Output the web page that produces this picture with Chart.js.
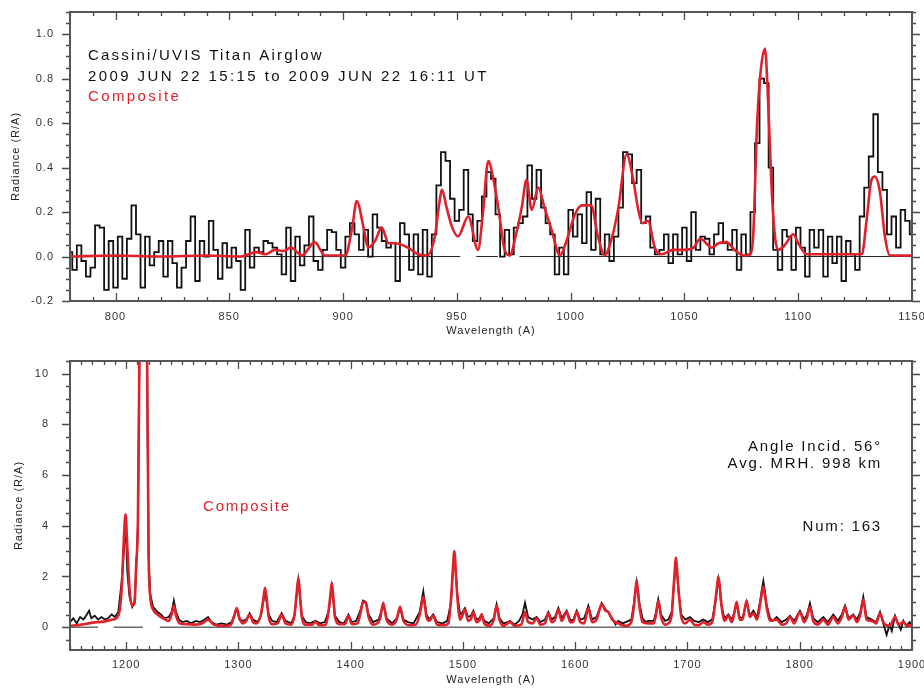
<!DOCTYPE html>
<html><head><meta charset="utf-8">
<script src="https://cdn.jsdelivr.net/npm/chart.js@4.4.1/dist/chart.umd.min.js"></script>
<style>
html,body{margin:0;padding:0;background:#fff;}
#wrap{position:relative;width:924px;height:690px;overflow:hidden;background:#fff;}
#c1{position:absolute;left:0;top:0;width:924px;height:345px;}
#c2{position:absolute;left:0;top:345px;width:924px;height:345px;}
</style></head><body>
<div id="wrap"><canvas id="c1" width="924" height="345"></canvas><canvas id="c2" width="924" height="345"></canvas></div>
<script>
// ---------- DATA ----------
// Top panel: observed spectrum, 2 A bins starting at 780 A
const topBinStart = 780, topBinStep = 2;
const observedTop = [
0.02,-0.06,0.05,-0.02,-0.09,-0.05,0.14,0.13,-0.15,0.07,
-0.14,0.09,-0.10,0.08,0.23,0.10,-0.14,0.09,-0.04,0.02,
0.07,-0.09,0.07,-0.03,-0.14,-0.05,0.07,0.18,-0.11,0.07,
0.00,0.16,0.03,-0.10,0.06,-0.05,0.04,-0.02,-0.15,0.12,
-0.05,0.04,0.02,0.07,0.06,0.04,0.01,-0.08,0.13,-0.11,
0.09,-0.04,0.05,0.18,-0.02,-0.06,0.03,0.12,0.11,0.03,
-0.05,0.09,0.15,0.10,0.03,0.12,0.00,0.19,0.13,0.07,
0.04,0.06,-0.11,0.15,0.10,-0.06,0.10,-0.08,0.12,-0.09,
0.10,0.32,0.47,0.43,0.26,0.16,0.21,0.39,0.19,0.07,
0.16,0.27,0.38,0.35,0.19,0.00,0.12,0.01,0.13,0.15,
0.18,0.41,0.26,0.39,0.22,0.15,0.10,-0.08,0.04,-0.08,
0.21,0.09,0.19,0.06,0.29,0.03,0.26,0.01,0.10,-0.02,
0.09,0.22,0.47,0.46,0.33,0.39,0.15,0.18,0.04,0.01,
0.03,0.10,-0.03,0.10,0.01,0.13,-0.02,0.20,0.03,0.09,
0.08,0.01,0.10,0.15,0.06,0.03,0.12,-0.06,0.10,0.01,
0.20,0.51,0.80,0.78,0.40,0.03,-0.06,0.12,0.09,-0.06,
0.13,0.04,-0.09,0.12,0.04,0.12,-0.09,0.09,-0.03,0.09,
-0.11,0.07,0.01,-0.06,0.18,0.31,0.45,0.64,0.38,0.30,
0.10,0.18,0.04,0.21,0.16,0.10
];
// Top panel: composite model [wavelength, radiance]
const compositeTop = [
[780,0.0],[800,0.005],[820,0.0],[840,0.005],[855,0.0],[862,0.02],[866,0.01],[870,0.03],[874,0.025],[877,0.04],
[882,0.005],[887.5,0.065],[892,0.005],[901,0.005],[904,0.13],[906,0.25],[909,0.13],[911,0.04],[914,0.07],[917,0.13],
[920,0.06],[923,0.06],[928.5,0.04],[933,0.01],[937,0.005],[940.5,0.10],[942,0.22],[943.5,0.30],[945.5,0.22],[948,0.13],
[950.5,0.09],[955,0.18],[959.3,0.03],[961.5,0.2],[963.8,0.43],[966,0.35],[968.2,0.22],[971,0.03],[973.3,0.005],[976,0.1],
[978.5,0.22],[980.6,0.345],[982.9,0.21],[985.8,0.31],[988.5,0.22],[991.6,0.12],[995.3,0.005],[998.5,0.08],[1001.9,0.19],[1005,0.23],
[1009,0.23],[1012,0.09],[1015,0.005],[1018,0.08],[1021,0.22],[1024.6,0.46],[1027.5,0.345],[1029.7,0.21],[1031.5,0.15],[1034,0.16],
[1037,0.04],[1040,0.01],[1045,0.03],[1050,0.03],[1054,0.04],[1057,0.08],[1062,0.04],[1065,0.06],[1068.5,0.065],[1072,0.03],
[1076,0.005],[1079,0.01],[1080.2,0.09],[1081,0.31],[1081.7,0.54],[1083.2,0.80],[1085.4,0.936],[1086.8,0.69],[1088.3,0.31],[1089.8,0.09],
[1091.2,0.03],[1094,0.05],[1097.8,0.10],[1100,0.06],[1103.7,0.01],[1110,0.01],[1120,0.01],[1128,0.01],[1130,0.16],[1132.2,0.345],
[1133.7,0.36],[1135.9,0.29],[1138.1,0.09],[1140.3,0.005],[1150,0.005]
];
const baselineTop = [[780,951.5],[958.5,968],[977.5,1150]];

// Bottom panel: observed spectrum [wavelength, radiance]
const observedBottom = [
[1150,0.2],[1153,0.35],[1156,0.15],[1159,0.4],[1162,0.3],[1165,0.5],[1167,0.65],[1169,0.35],[1172,0.45],[1175,0.3],
[1178,0.4],[1181,0.3],[1184,0.35],[1187,0.5],[1190,0.4],[1193,0.6],[1196,1.8],[1198,3.0],[1199.5,4.3],[1201,2.2],
[1203,1.2],[1205.5,0.8],[1207.5,1.0],[1209,2.3],[1210.5,4.0],[1212,11.5],[1215,20],[1218.5,11.5],[1220,2.8],[1221.5,1.3],
[1224,0.8],[1228,0.6],[1231,0.5],[1234,0.35],[1238,0.4],[1240.5,0.6],[1242.5,1.05],[1244.5,0.6],[1247,0.3],[1250,0.2],
[1254,0.25],[1258,0.15],[1262,0.25],[1266,0.2],[1270,0.3],[1273,0.4],[1276,0.2],[1280,0.1],[1285,0.15],[1290,0.1],
[1294,0.2],[1296.5,0.5],[1298.5,0.7],[1301,0.3],[1304,0.25],[1307,0.3],[1310,0.55],[1313,0.3],[1317,0.2],[1320,0.45],
[1322,0.95],[1323.7,1.4],[1325.5,0.9],[1327,0.5],[1330,0.25],[1334,0.2],[1338.5,0.55],[1342,0.25],[1347,0.15],[1350,0.45],
[1351.8,1.2],[1353.4,1.85],[1355,1.1],[1356.5,0.45],[1360,0.2],[1364,0.15],[1368.5,0.25],[1373,0.15],[1377,0.2],[1380.5,0.65],
[1381.8,1.1],[1383.2,1.6],[1384.7,1.0],[1386,0.45],[1390,0.2],[1394,0.15],[1398,0.5],[1401,0.2],[1405,0.25],[1409,0.7],
[1411,1.05],[1413.5,1.0],[1416,0.5],[1420,0.2],[1425,0.3],[1429,0.9],[1432,0.35],[1437,0.15],[1441,0.35],[1444,0.75],
[1447,0.3],[1451,0.2],[1456,0.15],[1461.5,0.6],[1463,1.0],[1464.7,1.42],[1466.3,0.9],[1467.5,0.5],[1470,0.3],[1473.5,0.5],
[1477,0.2],[1482,0.15],[1486,0.25],[1489.5,1.0],[1490.8,2.0],[1492.3,2.9],[1493.8,2.0],[1495,1.3],[1497.5,0.5],[1499,0.55],
[1501.8,0.75],[1504.5,0.4],[1507,0.45],[1509.3,0.65],[1512,0.3],[1514.5,0.35],[1516.7,0.5],[1519,0.25],[1523,0.15],[1527.5,0.35],
[1530,0.9],[1532.5,0.35],[1536,0.15],[1540,0.2],[1542,0.25],[1546,0.1],[1550,0.25],[1553,0.5],[1555.3,0.96],[1558,0.4],
[1562,0.3],[1565.7,0.4],[1569,0.2],[1573,0.3],[1576.1,0.6],[1579,0.3],[1582,0.4],[1585,0.76],[1588,0.35],[1592.4,0.65],
[1595.5,0.3],[1598,0.25],[1601.3,0.65],[1604.5,0.3],[1608,0.35],[1611.7,0.85],[1615,0.3],[1619,0.4],[1623.6,0.95],[1627,0.7],
[1629.5,0.6],[1633,0.35],[1636,0.1],[1638.4,0.25],[1642,0.15],[1645,0.2],[1650,0.3],[1652.5,1.0],[1653.6,1.45],[1654.7,1.8],
[1656,1.4],[1657,1.0],[1660,0.35],[1663,0.2],[1665.1,0.25],[1670,0.25],[1672,0.6],[1674,1.1],[1676.5,0.5],[1680,0.25],
[1683,0.3],[1686,0.6],[1688,1.7],[1689.8,2.6],[1691,2.0],[1692,1.4],[1694.5,0.5],[1698,0.3],[1702.2,0.4],[1706,0.25],
[1710,0.2],[1714.1,0.3],[1718,0.2],[1722,0.3],[1725,1.0],[1726.3,1.5],[1727.5,1.9],[1728.8,1.5],[1730,0.9],[1733,0.35],
[1736.4,0.5],[1739.5,0.3],[1741.5,0.55],[1743.8,0.9],[1746.5,0.4],[1749,0.35],[1752.7,1.0],[1755.5,0.45],[1758.7,0.65],[1762,0.4],
[1765,1.1],[1766.3,1.5],[1767.6,1.82],[1769,1.4],[1770.5,0.9],[1773.5,0.35],[1776,0.25],[1779.4,0.4],[1784,0.2],[1788,0.3],
[1791.3,0.45],[1795,0.25],[1800.2,0.65],[1804,0.3],[1806.5,0.5],[1809.1,0.95],[1812,0.35],[1816,0.2],[1821,0.4],[1825,0.2],
[1829.9,0.5],[1834,0.25],[1837.5,0.5],[1840.3,0.85],[1843.5,0.35],[1847.7,0.5],[1851,0.3],[1854,0.6],[1856.6,1.2],[1859.5,0.4],
[1864.1,0.3],[1868,0.2],[1871.5,0.6],[1874,0.2],[1877.4,-0.3],[1880,0.1],[1882,-0.15],[1884.9,0.45],[1888,0.1],[1890,-0.1],
[1892.3,0.25],[1895,0.05],[1898,0.2],[1900,0.05]
];
// Bottom panel: composite model [wavelength, radiance]
const compositeBottom = [
[1150,0.05],[1160,0.10],[1170,0.18],[1180,0.22],[1188,0.30],[1193,0.45],[1196,1.5],[1198,3.5],[1199.5,4.45],[1201,3.2],
[1203,1.5],[1205.5,0.85],[1207.5,0.95],[1209,2.5],[1210.5,4.2],[1212,11.5],[1215,20],[1218.5,11.5],[1220,3.0],[1221.5,1.2],
[1224,0.7],[1228,0.5],[1233,0.35],[1238,0.25],[1240.5,0.5],[1242.5,0.85],[1244.5,0.45],[1248,0.15],[1255,0.12],[1262,0.1],
[1268,0.15],[1273,0.30],[1278,0.1],[1285,0.05],[1293,0.08],[1296,0.4],[1298.5,0.75],[1301,0.35],[1304,0.15],[1307,0.25],
[1310,0.5],[1313,0.2],[1316,0.15],[1320,0.5],[1322,1.05],[1323.7,1.55],[1325.5,1.0],[1327,0.4],[1330,0.12],[1335,0.15],
[1338.5,0.5],[1342,0.15],[1347,0.1],[1350,0.5],[1351.8,1.3],[1353.4,1.95],[1355,1.2],[1356.5,0.4],[1360,0.1],[1366,0.1],
[1368.5,0.22],[1372,0.08],[1378,0.1],[1380.5,0.7],[1381.8,1.2],[1383.2,1.75],[1384.7,1.1],[1386,0.4],[1390,0.12],[1395,0.12],
[1398,0.45],[1401,0.12],[1406,0.15],[1409,0.6],[1411,1.0],[1413.5,0.95],[1416,0.4],[1420,0.1],[1426,0.3],[1429,0.95],
[1432,0.3],[1437,0.1],[1441,0.3],[1444,0.8],[1447,0.25],[1452,0.08],[1458,0.1],[1461.5,0.5],[1463,0.85],[1464.7,1.2],
[1466.3,0.8],[1467.5,0.4],[1470,0.25],[1473.5,0.45],[1477,0.1],[1483,0.08],[1487,0.15],[1489.5,1.2],[1490.8,2.1],[1492.3,3.0],
[1493.8,2.1],[1495,1.2],[1497.5,0.3],[1499,0.4],[1501.8,0.7],[1504.5,0.25],[1507,0.3],[1509.3,0.6],[1512,0.2],[1514.5,0.25],
[1516.7,0.5],[1519,0.15],[1524,0.05],[1527.5,0.3],[1530,0.85],[1532.5,0.3],[1536,0.05],[1541.9,0.2],[1546,0.05],[1552,0.1],
[1555.3,0.6],[1558,0.2],[1562,0.15],[1565.7,0.35],[1569,0.1],[1573,0.15],[1576.1,0.55],[1579,0.2],[1582,0.3],[1585,0.7],
[1588,0.25],[1592.4,0.6],[1595.5,0.2],[1598,0.2],[1601.3,0.6],[1604.5,0.2],[1608,0.15],[1611.7,0.75],[1615,0.2],[1619,0.3],
[1623.6,0.9],[1627,0.65],[1629.5,0.6],[1633,0.3],[1638.4,0.15],[1645,0.05],[1650,0.2],[1652.5,0.9],[1653.6,1.4],[1654.7,1.85],
[1656,1.35],[1657,0.9],[1660,0.2],[1665.1,0.15],[1670,0.15],[1672,0.5],[1674,1.05],[1676.5,0.4],[1680,0.1],[1683,0.15],
[1686,0.5],[1688,1.8],[1689.8,2.75],[1691,2.1],[1692,1.5],[1694.5,0.4],[1698,0.15],[1702.2,0.3],[1706,0.1],[1710,0.08],
[1714.1,0.2],[1718,0.1],[1722,0.2],[1725,1.1],[1726.3,1.6],[1727.5,2.0],[1728.8,1.6],[1730,1.0],[1733,0.25],[1736.4,0.45],
[1739.5,0.2],[1741.5,0.5],[1743.8,1.0],[1746.5,0.3],[1749,0.3],[1752.7,1.05],[1755.5,0.4],[1758.7,0.55],[1762,0.3],[1765,1.0],
[1766.3,1.35],[1767.6,1.6],[1769,1.25],[1770.5,0.8],[1773.5,0.25],[1779.4,0.3],[1784,0.1],[1788,0.15],[1791.3,0.4],[1795,0.15],
[1800.2,0.6],[1804,0.2],[1806.5,0.4],[1809.1,0.8],[1812,0.25],[1816,0.1],[1821,0.3],[1825,0.1],[1829.9,0.4],[1834,0.15],
[1837.5,0.4],[1840.3,0.8],[1843.5,0.3],[1847.7,0.45],[1851,0.2],[1854,0.5],[1856.6,1.1],[1859.5,0.3],[1864.1,0.25],[1868,0.15],
[1871.5,0.55],[1875,0.15],[1880,0.05],[1884.9,0.4],[1888,0.1],[1892.3,0.2],[1896,0.05],[1900,0.1]
];
const baselineBottom = [[1150,1175],[1189,1215],[1230,1900]];

// ---------- HELPERS ----------
const RED = '#e0202b';
const FONT = '"Liberation Sans", Arial, Helvetica, sans-serif';
const toPts = arr => arr.map(p => ({x: p[0], y: p[1]}));
const binPts = (start, step, vals) => vals.map((v, i) => ({x: start + i * step, y: v}));
function segPts(segs) {
  const out = [];
  segs.forEach((s, i) => {
    if (i) out.push({x: (s[0] + segs[i - 1][1]) / 2, y: null});
    out.push({x: s[0], y: 0}, {x: s[1], y: 0});
  });
  return out;
}

const axisFrame = {
  id: 'axisFrame',
  beforeLayout(chart) { chart.ctx.letterSpacing = '1px'; },
  beforeDraw(chart) { chart.ctx.letterSpacing = '1px'; },
  afterDraw(chart, args, o) {
    const {ctx, chartArea: a, scales: {x, y}} = chart;
    ctx.save();
    ctx.strokeStyle = '#4a4a4a';
    ctx.lineWidth = 1.3;
    ctx.beginPath();
    const nx = Math.round((x.max - x.min) / o.xMinor);
    for (let i = 0; i <= nx; i++) {
      const v = x.min + i * o.xMinor;
      const px = Math.round(x.getPixelForValue(v)) + 0.5;
      const major = Math.abs(v / o.xMajor - Math.round(v / o.xMajor)) < 1e-6;
      const L = major ? 8 : 4;
      ctx.moveTo(px, a.bottom); ctx.lineTo(px, a.bottom - L);
      ctx.moveTo(px, a.top); ctx.lineTo(px, a.top + L);
    }
    const yStart = Math.ceil(y.min / o.yMinor - 1e-6);
    const yEnd = Math.floor(y.max / o.yMinor + 1e-6);
    for (let k = yStart; k <= yEnd; k++) {
      const v = k * o.yMinor;
      const py = Math.round(y.getPixelForValue(v)) + 0.5;
      const major = Math.abs(v / o.yMajor - Math.round(v / o.yMajor)) < 1e-6;
      const L = major ? 8 : 4;
      ctx.moveTo(a.left, py); ctx.lineTo(a.left - L, py);
      ctx.moveTo(a.right, py); ctx.lineTo(a.right + L, py);
    }
    ctx.stroke();
    ctx.lineWidth = 2;
    ctx.strokeStyle = '#555';
    ctx.strokeRect(a.left, a.top, a.right - a.left, a.bottom - a.top);
    ctx.textBaseline = 'middle';
    for (const t of o.texts) {
      ctx.font = t.size + 'px ' + FONT;
      ctx.fillStyle = t.color;
      ctx.textAlign = t.align;
      ctx.letterSpacing = t.spacing + 'px';
      ctx.fillText(t.text, t.x, t.y);
    }
    ctx.restore();
  }
};

function makeOptions(cfg) {
  return {
    responsive: false, animation: false, devicePixelRatio: 1,
    layout: {padding: {top: cfg.padTop, right: 12, left: 0, bottom: 0}},
    plugins: {legend: {display: false}, tooltip: {enabled: false}, axisFrame: cfg.frame},
    scales: {
      x: {
        type: 'linear', position: 'bottom', min: cfg.xMin, max: cfg.xMax,
        grid: {display: false, drawTicks: false}, border: {display: false},
        ticks: {stepSize: cfg.xStep, includeBounds: false, autoSkip: false, maxRotation: 0,
          padding: cfg.xPad, color: '#333', font: {family: FONT, size: 11},
          callback: v => String(v)},
        title: {display: true, text: 'Wavelength (A)', color: '#222', font: {family: FONT, size: 11},
          padding: {top: 0, bottom: cfg.xTitlePad}},
        afterFit(s) { s.height = cfg.xHeight; s.paddingLeft = 0; s.paddingRight = 0; }
      },
      y: {
        type: 'linear', min: cfg.yMin, max: cfg.yMax,
        grid: {display: false, drawTicks: false}, border: {display: false},
        ticks: {stepSize: cfg.yStep, includeBounds: false, padding: cfg.yPad, color: '#333',
          font: {family: FONT, size: 11}, callback: cfg.yFmt},
        title: {display: true, text: 'Radiance (R/A)', color: '#222', font: {family: FONT, size: 11},
          padding: {top: cfg.yTitlePad, bottom: 0}},
        afterFit(s) { s.width = 70; s.paddingTop = 0; s.paddingBottom = 0; }
      }
    }
  };
}

const lineStyle = {
  composite: {borderColor: RED, borderWidth: 2.6, pointRadius: 0, cubicInterpolationMode: 'monotone', fill: false, clip: 0},
  observed: {borderColor: '#111', borderWidth: 1.8, pointRadius: 0, fill: false, clip: 0},
  base: {borderColor: '#222', borderWidth: 1, pointRadius: 0, fill: false, spanGaps: false, clip: 0}
};

// ---------- TOP CHART ----------
new Chart(document.getElementById('c1'), {
  type: 'line',
  data: {datasets: [
    Object.assign({label: 'Composite', data: toPts(compositeTop)}, lineStyle.composite),
    Object.assign({label: 'Observed', data: binPts(topBinStart, topBinStep, observedTop), stepped: 'middle'}, lineStyle.observed),
    Object.assign({label: 'Zero', data: segPts(baselineTop)}, lineStyle.base)
  ]},
  options: makeOptions({
    padTop: 12, xMin: 780, xMax: 1150, xStep: 50, xPad: 9.5, xTitlePad: 7.4, xHeight: 44,
    yMin: -0.2, yMax: 1.1, yStep: 0.2, yPad: 16, yTitlePad: 9.4, yFmt: v => v.toFixed(1),
    frame: {xMinor: 10, xMajor: 50, yMinor: 0.05, yMajor: 0.2, texts: [
      {text: 'Cassini/UVIS Titan Airglow', x: 88, y: 56, size: 15, spacing: 2.2, color: '#111', align: 'left'},
      {text: '2009 JUN 22 15:15 to 2009 JUN 22 16:11 UT', x: 88, y: 77, size: 15, spacing: 2.4, color: '#111', align: 'left'},
      {text: 'Composite', x: 88, y: 97, size: 15, spacing: 2.4, color: RED, align: 'left'}
    ]}
  }),
  plugins: [axisFrame]
});

// ---------- BOTTOM CHART ----------
new Chart(document.getElementById('c2'), {
  type: 'line',
  data: {datasets: [
    Object.assign({label: 'Composite', data: toPts(compositeBottom)}, lineStyle.composite),
    Object.assign({label: 'Observed', data: toPts(observedBottom)}, lineStyle.observed),
    Object.assign({label: 'Zero', data: segPts(baselineBottom)}, lineStyle.base)
  ]},
  options: makeOptions({
    padTop: 16, xMin: 1150, xMax: 1900, xStep: 100, xPad: 8, xTitlePad: 3.4, xHeight: 40,
    yMin: -0.9, yMax: 10.5, yStep: 2, yPad: 21, yTitlePad: 12, yFmt: v => String(v),
    frame: {xMinor: 10, xMajor: 100, yMinor: 0.5, yMajor: 2, texts: [
      {text: 'Angle Incid. 56\u00b0', x: 882, y: 102, size: 15, spacing: 1.8, color: '#111', align: 'right'},
      {text: 'Avg. MRH. 998 km', x: 882, y: 119, size: 15, spacing: 1.8, color: '#111', align: 'right'},
      {text: 'Num: 163', x: 882, y: 182, size: 15, spacing: 1.8, color: '#111', align: 'right'},
      {text: 'Composite', x: 203, y: 162, size: 15, spacing: 1.8, color: RED, align: 'left'}
    ]}
  }),
  plugins: [axisFrame]
});
</script></body></html>
